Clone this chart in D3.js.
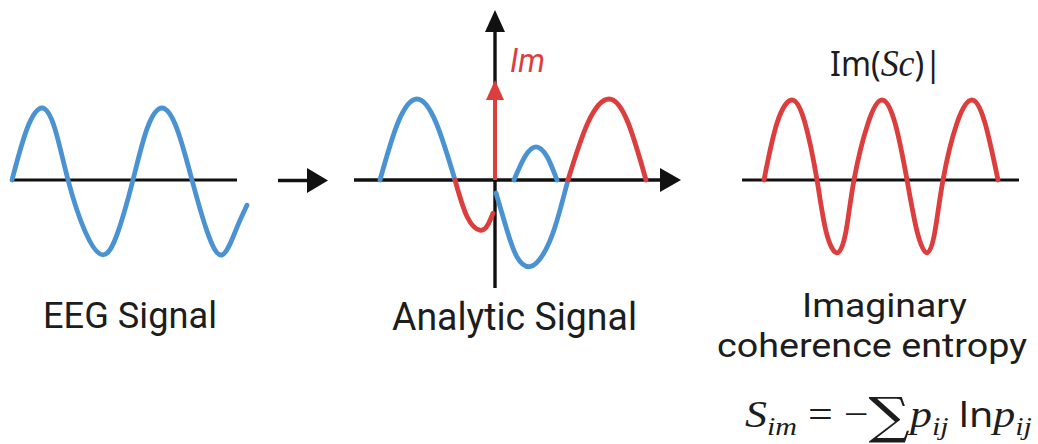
<!DOCTYPE html>
<html>
<head>
<meta charset="utf-8">
<script src="https://cdn.jsdelivr.net/npm/d3@7"></script>
<style>
  html, body { margin: 0; padding: 0; background: #fff; }
  svg { display: block; }
</style>
</head>
<body>
<svg id="chart" width="1038" height="444"></svg>
<script>
// ---------------- DATA ----------------
// Panel 1: EEG signal, time in cycles, amplitude normalised
const eegT = [0, 0.125, 0.25, 0.358, 0.467, 0.608, 0.758, 0.883, 1.008, 1.125, 1.25, 1.375, 1.5, 1.625, 1.75, 1.867, 1.958];
const eegV = [0, 0.71, 1, 0.71, 0, -0.71, -1.04, -0.72, 0, 0.71, 1, 0.71, 0, -0.71, -1.04, -0.69, -0.35];
const eegAxis = [0.008, 1.875];

// Panel 2: analytic signal, pieces (t, value)
const anBlueLeftT = [-3.833, -3.233, -2.6, -1.967, -1.333];
const anBlueLeftV = [0, 0.71, 1, 0.71, 0];
const anRedLeftT = [-1.333, -0.933, -0.5, -0.233, -0.067];
const anRedLeftV = [0, -0.45, -0.62, -0.55, -0.41];
const anBlueMidT = [0.033, 0.4, 0.733, 1.167, 1.6, 2.0, 2.433];
const anBlueMidV = [-0.16, -0.62, -0.95, -1.07, -0.92, -0.58, 0];
const anBlueHumpT = [0.633, 1.0, 1.367, 1.733, 2.067];
const anBlueHumpV = [0, 0.29, 0.41, 0.29, 0];
const anRedRightT = [2.433, 3.1, 3.8, 4.433, 5.033];
const anRedRightV = [0, 0.71, 1, 0.71, 0];
const anAxisX = [-4.7, 6.2];
const anAxisY = [-1.333, 2.1];
const anImArrow = 1.235;

// Panel 3: |Im(Sc)|, time in cycles
const icT = [0, 0.144, 0.311, 0.456, 0.589, 0.689, 0.811, 0.911, 1.0, 1.156, 1.311, 1.456, 1.589, 1.7, 1.811, 1.9, 1.989, 2.144, 2.311, 2.456, 2.6];
const icV = [0, 0.71, 1, 0.71, 0, -0.64, -0.91, -0.64, 0, 0.71, 1, 0.71, 0, -0.64, -0.91, -0.64, 0, 0.71, 1, 0.71, 0];
const icAxis = [-0.244, 2.833];

// Labels
const panelLabels = ["EEG Signal", "Analytic Signal"];
const panel3Label = ["Imaginary", "coherence entropy"];
const imLabel = "Im";

// ---------------- DRAWING ----------------
const BLUE = "#4a92d2", RED = "#dc3d3d", BLACK = "#111", TEXT = "#1d1d1d";
const svg = d3.select("#chart");
svg.append("rect").attr("width", 1038).attr("height", 444).attr("fill", "#fff");

const zip = (a, b) => a.map((d, i) => [d, b[i]]);
const curve = d3.curveNatural;

function drawLine(g, xs, ys, T, V, color, w) {
  const line = d3.line().x(d => xs(d[0])).y(d => ys(d[1])).curve(curve);
  g.append("path").datum(zip(T, V)).attr("d", line)
    .attr("fill", "none").attr("stroke", color).attr("stroke-width", w)
    .attr("stroke-linecap", "round").attr("stroke-linejoin", "round");
}

// Panel 1
const x1 = d3.scaleLinear().domain([0, 2]).range([12, 252]);
const y1 = d3.scaleLinear().domain([-1, 1]).range([252, 108]);
const g1 = svg.append("g");
g1.append("line").attr("x1", x1(eegAxis[0])).attr("x2", x1(eegAxis[1]))
  .attr("y1", y1(0)).attr("y2", y1(0)).attr("stroke", BLACK).attr("stroke-width", 3.2);
drawLine(g1, x1, y1, eegT, eegV, BLUE, 4.8);

// arrow between panel 1 and 2
const ga = svg.append("g");
ga.append("line").attr("x1", 278).attr("x2", 312).attr("y1", 180.5).attr("y2", 180.5)
  .attr("stroke", BLACK).attr("stroke-width", 3.4);
ga.append("path").attr("d", "M307,168 L328,180.5 L307,193 Z").attr("fill", BLACK);

// Panel 2
const x2 = d3.scaleLinear().domain([0, 1]).range([495, 525]);
const y2 = d3.scaleLinear().domain([-1, 1]).range([261, 99]);
const g2 = svg.append("g");
const ax0 = y2(0), ay0 = x2(0);
g2.append("line").attr("x1", x2(anAxisX[0])).attr("x2", x2(anAxisX[1]) - 12)
  .attr("y1", ax0).attr("y2", ax0).attr("stroke", BLACK).attr("stroke-width", 3.4);
g2.append("path").attr("d", `M${x2(anAxisX[1]) - 21},${ax0 - 12} L${x2(anAxisX[1])},${ax0} L${x2(anAxisX[1]) - 21},${ax0 + 12} Z`).attr("fill", BLACK);
g2.append("line").attr("x1", ay0).attr("x2", ay0)
  .attr("y1", y2(anAxisY[0])).attr("y2", y2(anAxisY[1]) + 12)
  .attr("stroke", BLACK).attr("stroke-width", 3.4);
g2.append("path").attr("d", `M${ay0 - 10},${y2(anAxisY[1]) + 22} L${ay0},${y2(anAxisY[1])} L${ay0 + 10},${y2(anAxisY[1]) + 22} Z`).attr("fill", BLACK);

drawLine(g2, x2, y2, anBlueLeftT, anBlueLeftV, BLUE, 4.8);
drawLine(g2, x2, y2, anRedLeftT, anRedLeftV, RED, 4.8);
drawLine(g2, x2, y2, anBlueMidT, anBlueMidV, BLUE, 4.8);
drawLine(g2, x2, y2, anBlueHumpT, anBlueHumpV, BLUE, 4.8);
drawLine(g2, x2, y2, anRedRightT, anRedRightV, RED, 4.8);

// red Im arrow
g2.append("line").attr("x1", ay0).attr("x2", ay0).attr("y1", ax0)
  .attr("y2", y2(anImArrow) + 14).attr("stroke", RED).attr("stroke-width", 4);
g2.append("path").attr("d", `M${ay0 - 9},${y2(anImArrow) + 20} L${ay0},${y2(anImArrow)} L${ay0 + 9},${y2(anImArrow) + 20} Z`).attr("fill", RED);
g2.append("text").attr("x", 510).attr("y", 72).text(imLabel)
  .attr("font-family", "Roboto").attr("font-style", "italic").attr("font-size", 33)
  .attr("fill", RED).attr("textLength", 35).attr("lengthAdjust", "spacingAndGlyphs");

// Panel 3
const x3 = d3.scaleLinear().domain([0, 1]).range([764, 854]);
const y3 = d3.scaleLinear().domain([-1, 1]).range([260, 100]);
const g3 = svg.append("g");
g3.append("line").attr("x1", x3(icAxis[0])).attr("x2", x3(icAxis[1]))
  .attr("y1", y3(0)).attr("y2", y3(0)).attr("stroke", BLACK).attr("stroke-width", 3.2);
drawLine(g3, x3, y3, icT, icV, RED, 4.8);

// Im(Sc)| title
const tt = svg.append("text").attr("x", 0).attr("y", 0)
  .attr("fill", TEXT).attr("font-size", 34).attr("font-family", "Noto Sans");
tt.append("tspan").text("Im(");
tt.append("tspan").attr("font-family", "Liberation Serif").attr("font-style", "italic").attr("font-size", 38).text("Sc");
tt.append("tspan").text(")|");
const tb = tt.node().getBBox();
const tk = 112 / tb.width;
tt.attr("transform", `translate(${830 - tb.x * tk},76) scale(${tk},1)`);

// Bottom labels
const labStyle = s => s.attr("font-family", "Roboto").attr("fill", TEXT)
  .attr("lengthAdjust", "spacingAndGlyphs").attr("text-anchor", "middle");
labStyle(svg.append("text")).attr("x", 130).attr("y", 328).attr("font-size", 37)
  .attr("textLength", 174).text(panelLabels[0]);
labStyle(svg.append("text")).attr("x", 514.5).attr("y", 330).attr("font-size", 38)
  .attr("textLength", 245).text(panelLabels[1]);
labStyle(svg.append("text")).attr("x", 884.5).attr("y", 317).attr("font-size", 34)
  .attr("textLength", 165).text(panel3Label[0]);
labStyle(svg.append("text")).attr("x", 872).attr("y", 357).attr("font-size", 34)
  .attr("textLength", 310).text(panel3Label[1]);

// Formula
const f = svg.append("text").attr("x", 0).attr("y", 0)
  .attr("font-family", "Liberation Serif").attr("font-size", 38).attr("fill", TEXT);
f.append("tspan").attr("font-style", "italic").text("S");
f.append("tspan").attr("font-style", "italic").attr("font-size", 26).attr("dy", 8).text("im");
f.append("tspan").attr("dy", -8).text(" = −");
f.append("tspan").attr("font-size", 50).attr("dy", 6).attr("font-family", "DejaVu Serif").text("∑");
f.append("tspan").attr("dy", -6).attr("font-style", "italic").text("p");
f.append("tspan").attr("font-style", "italic").attr("font-size", 26).attr("dy", 8).text("ij");
f.append("tspan").attr("dy", -8).attr("font-family", "Noto Sans").attr("font-size", 34).text(" ln");
f.append("tspan").attr("font-style", "italic").text("p");
f.append("tspan").attr("font-style", "italic").attr("font-size", 26).attr("dy", 8).text("ij");
const fb = f.node().getBBox();
const k = 287 / fb.width;
f.attr("transform", `translate(${745 - fb.x * k},427) scale(${k},1)`);
</script>
</body>
</html>
